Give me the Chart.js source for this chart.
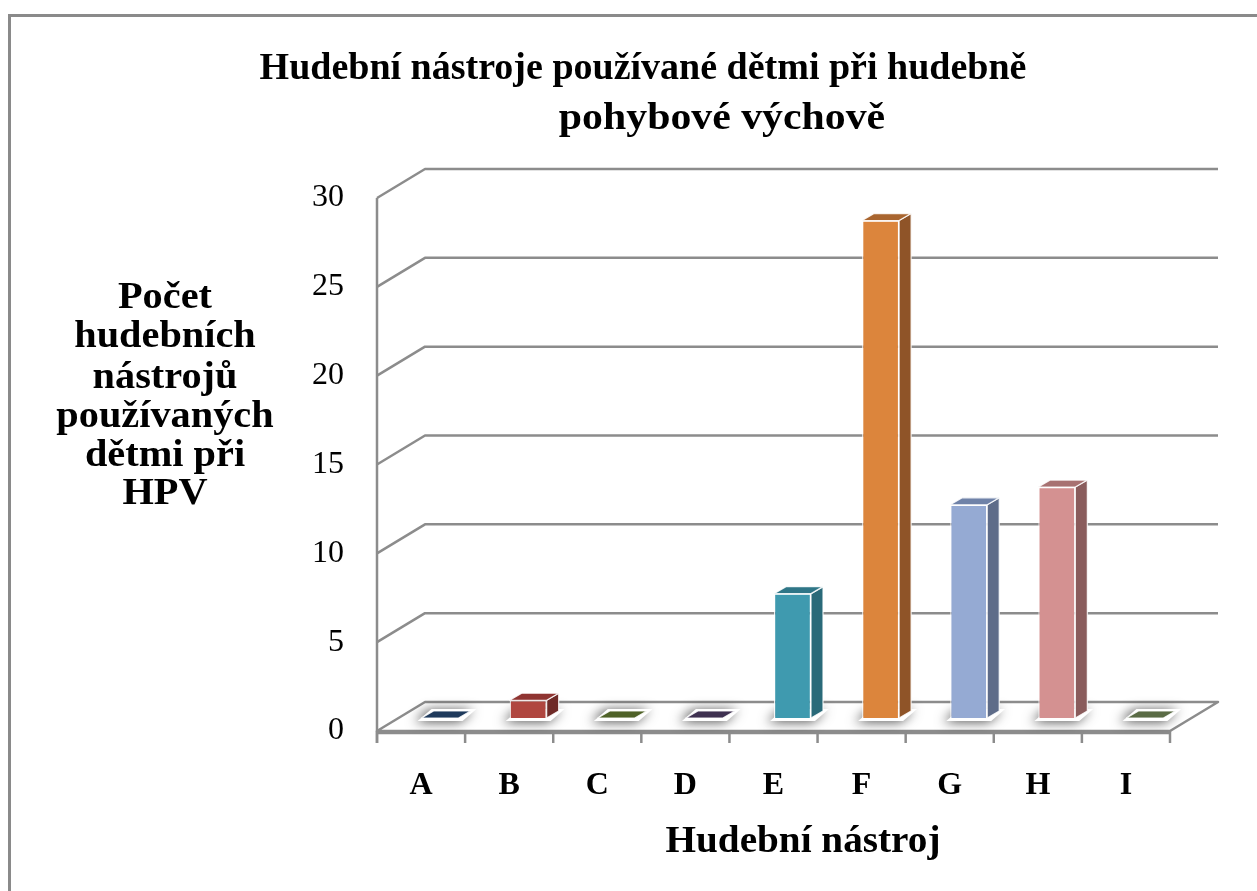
<!DOCTYPE html>
<html><head><meta charset="utf-8">
<script src="https://cdn.jsdelivr.net/npm/chart.js@4/dist/chart.umd.min.js"></script>
<style>html,body{margin:0;padding:0;background:#fff;overflow:hidden}canvas{display:block}</style>
</head><body>
<canvas id="c" width="1257" height="891"></canvas>
<script>
// ---- data ----
const categories = ['A','B','C','D','E','F','G','H','I'];
const counts = [0, 1, 0, 0, 7, 28, 12, 13, 0];
const yTicks = [0, 5, 10, 15, 20, 25, 30];
const titleLines = ['Hudební nástroje používané dětmi při hudebně', 'pohybové výchově'];
const yTitleLines = ['Počet', 'hudebních', 'nástrojů', 'používaných', 'dětmi při', 'HPV'];
const xTitle = 'Hudební nástroj';

// ---- styles ----
const frontColors = ['#4f81bd','#b0463f','#9bbb59','#8064a2','#3f9aaf','#dc853c','#95aad3','#d49191','#7f9a48'];
const sideColors  = ['#2c4a6e','#6f2a27','#566b32','#49395d','#2a6a79','#8f5428','#5e6c89','#8a5c5c','#4e5f2d'];
const topColors   = ['#1f3a5c','#8f3431','#4f6228','#3f3151','#2f7687','#a9652f','#6f82a8','#a87272','#5a6b45'];
const SERIF = "'Liberation Serif','Times New Roman','DejaVu Serif',serif";
const GRID = '#8c8c8c';
const DEPTH = {x: 48, y: -29};
const BAR_SHIFT = {x: 19, y: -13};
const BAR_DEPTH = {x: 12, y: -7};

function poly(ctx, pts){ ctx.beginPath(); ctx.moveTo(pts[0][0], pts[0][1]); for (let i=1;i<pts.length;i++) ctx.lineTo(pts[i][0], pts[i][1]); ctx.closePath(); }
function stretchText(ctx, s, cx, cy, sx){ ctx.save(); ctx.translate(cx, cy); ctx.scale(sx, 1); ctx.fillText(s, 0, 0); ctx.restore(); }

const threeD = {
  id: 'threeD',
  beforeDraw(chart){
    const ctx = chart.ctx;
    ctx.save();
    ctx.fillStyle = '#fff'; ctx.fillRect(0,0,chart.width,chart.height);
    ctx.strokeStyle = '#8a8a8a'; ctx.lineWidth = 3;
    ctx.strokeRect(9.5, 15.5, chart.width + 40, chart.height + 40);
    ctx.restore();
  },
  beforeDatasetsDraw(chart){
    const {ctx, scales:{x, y}} = chart;
    const L = x.left, R = x.right, B = y.getPixelForValue(0);
    ctx.save();
    ctx.strokeStyle = GRID; ctx.lineWidth = 2.5; ctx.lineJoin = 'round';
    yTicks.forEach(v => {
      if (v === 0) return;
      const py = y.getPixelForValue(v);
      ctx.beginPath(); ctx.moveTo(L, py); ctx.lineTo(L + DEPTH.x, py + DEPTH.y); ctx.lineTo(R + DEPTH.x, py + DEPTH.y); ctx.stroke();
    });
    // floor
    poly(ctx, [[L,B],[L+DEPTH.x,B+DEPTH.y],[R+DEPTH.x,B+DEPTH.y],[R,B]]);
    ctx.fillStyle = '#fff'; ctx.fill(); ctx.stroke();
    // front axis
    ctx.beginPath(); ctx.moveTo(L, y.getPixelForValue(30)); ctx.lineTo(L, B + 12); ctx.stroke();
    ctx.beginPath(); ctx.moveTo(L, B + 2); ctx.lineTo(R, B + 2); ctx.stroke();
    // category ticks
    const n = categories.length;
    for (let i = 0; i <= n; i++) {
      let px;
      if (i === 0) px = L; else if (i === n) px = R;
      else px = (x.getPixelForValue(i-1) + x.getPixelForValue(i)) / 2;
      ctx.beginPath(); ctx.moveTo(px, B); ctx.lineTo(px, B + 12); ctx.stroke();
    }
    ctx.restore();
    // bars: shifted to mid depth
    ctx.save();
    ctx.translate(BAR_SHIFT.x, BAR_SHIFT.y);
    const meta = chart.getDatasetMeta(0);
    meta.data.forEach((bar) => {
      const p = bar.getProps(['x','base','width'], true);
      const l = p.x - p.width/2 - 4, r = p.x + p.width/2 + 4, b = p.base + 3;
      ctx.save();
      ctx.shadowColor = 'rgba(0,0,0,0.7)'; ctx.shadowBlur = 12; ctx.shadowOffsetX = -3; ctx.shadowOffsetY = 1;
      poly(ctx, [[l,b],[l+BAR_DEPTH.x+2,b+BAR_DEPTH.y-5],[r+BAR_DEPTH.x+2,b+BAR_DEPTH.y-5],[r,b]]);
      ctx.fillStyle = '#fff'; ctx.fill();
      ctx.restore();
    });
  },
  afterDatasetsDraw(chart){
    const ctx = chart.ctx;
    const meta = chart.getDatasetMeta(0);
    meta.data.forEach((bar, i) => {
      const p = bar.getProps(['x','y','base','width'], true);
      const l = p.x - p.width/2, r = p.x + p.width/2, t = p.y, b = p.base;
      ctx.strokeStyle = 'rgba(255,255,255,0.85)'; ctx.lineWidth = 1.2; ctx.lineJoin = 'round';
      if (b - t > 0.5) {
        poly(ctx, [[r,t],[r+BAR_DEPTH.x,t+BAR_DEPTH.y],[r+BAR_DEPTH.x,b+BAR_DEPTH.y],[r,b]]);
        ctx.fillStyle = sideColors[i]; ctx.fill(); ctx.stroke();
      }
      poly(ctx, [[l,t],[l+BAR_DEPTH.x,t+BAR_DEPTH.y],[r+BAR_DEPTH.x,t+BAR_DEPTH.y],[r,t]]);
      ctx.fillStyle = topColors[i]; ctx.fill(); ctx.stroke();
    });
    ctx.restore();
  },
  afterDraw(chart){
    const ctx = chart.ctx;
    ctx.save();
    ctx.fillStyle = '#000';
    ctx.textAlign = 'center'; ctx.textBaseline = 'middle';
    ctx.font = `bold 38px ${SERIF}`;
    stretchText(ctx, titleLines[0], 643, 69, 1.0);
    stretchText(ctx, titleLines[1], 722, 119, 1.1);
    ctx.font = `bold 37px ${SERIF}`;
    const yTitleY = [298, 337, 378, 417, 456, 494];
    yTitleLines.forEach((s, i) => stretchText(ctx, s, 165, yTitleY[i], 1.09));
    stretchText(ctx, xTitle, 803, 842, 1.06);
    ctx.restore();
  }
};

new Chart(document.getElementById('c'), {
  type: 'bar',
  data: {
    labels: categories,
    datasets: [{
      data: counts,
      backgroundColor: frontColors,
      borderColor: 'rgba(255,255,255,0.85)',
      borderWidth: 1.2,
      barPercentage: 0.42,
      categoryPercentage: 1,
      clip: false
    }]
  },
  options: {
    responsive: false,
    animation: false,
    events: [],
    layout: { padding: { top: 198, left: 0, right: 87, bottom: 0 } },
    plugins: { legend: { display: false }, tooltip: { enabled: false }, title: { display: false } },
    scales: {
      x: {
        grid: { display: false, drawTicks: false },
        border: { display: false },
        ticks: { color: '#000', padding: 36, font: { family: SERIF, size: 32, weight: 'bold' } },
        afterFit(s){ s.height = 160; }
      },
      y: {
        min: 0, max: 30,
        grid: { display: false, drawTicks: false },
        border: { display: false },
        ticks: { stepSize: 5, color: '#000', padding: 33, font: { family: SERIF, size: 32 } },
        afterFit(s){ s.width = 377; }
      }
    }
  },
  plugins: [threeD]
});
</script>
</body></html>
